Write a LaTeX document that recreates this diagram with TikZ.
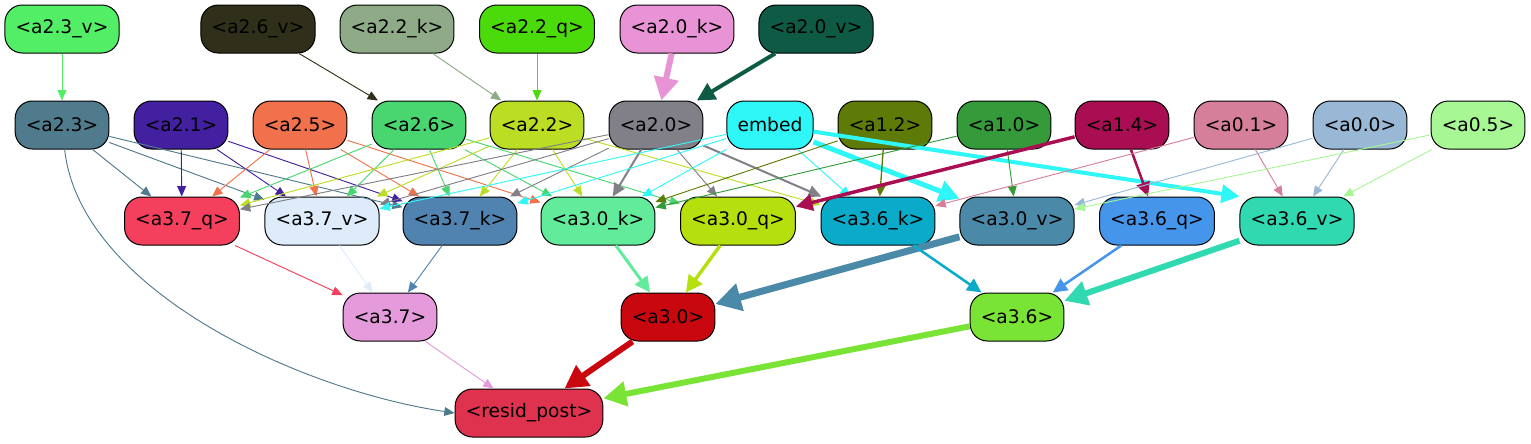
\documentclass[tikz,border=0pt]{standalone}
\usepackage{fontspec}
\setmainfont{DejaVu Sans}
\usetikzlibrary{arrows.meta}
\definecolor{c23v}{HTML}{52EF66}
\definecolor{c26v}{HTML}{30301A}
\definecolor{c22k}{HTML}{8FAA87}
\definecolor{c22q}{HTML}{4BDB0B}
\definecolor{c20k}{HTML}{E893D5}
\definecolor{c20v}{HTML}{0E5A44}
\definecolor{c23}{HTML}{4F7B8C}
\definecolor{c21}{HTML}{43209F}
\definecolor{c25}{HTML}{F0714B}
\definecolor{c26}{HTML}{49D56F}
\definecolor{c22}{HTML}{BBDE24}
\definecolor{c20}{HTML}{818089}
\definecolor{cemb}{HTML}{2FF7F7}
\definecolor{c12}{HTML}{5D7B06}
\definecolor{c10}{HTML}{359A39}
\definecolor{c14}{HTML}{AA0E52}
\definecolor{c01}{HTML}{D67F9A}
\definecolor{c00}{HTML}{99B8D6}
\definecolor{c05}{HTML}{A7F795}
\definecolor{c37q}{HTML}{F43F5D}
\definecolor{c37v}{HTML}{DDEBFB}
\definecolor{c37k}{HTML}{5183B0}
\definecolor{c30k}{HTML}{62EB9B}
\definecolor{c30q}{HTML}{B6E00D}
\definecolor{c36k}{HTML}{0AABC9}
\definecolor{c30v}{HTML}{4A89A8}
\definecolor{c36q}{HTML}{4595EB}
\definecolor{c36v}{HTML}{30D9AF}
\definecolor{c37}{HTML}{E49ADB}
\definecolor{c30}{HTML}{C8080E}
\definecolor{c36}{HTML}{79E435}
\definecolor{cres}{HTML}{DF324E}
\begin{document}
\begin{tikzpicture}[x=0.75pt, y=-0.75pt,
		box/.style={draw=black, line width=0.75pt, rounded corners=13pt, minimum height=36pt, inner xsep=8pt, inner ysep=0pt, font=\fontsize{14pt}{16pt}\selectfont},
		wire/.style={draw=#1, line width=0.7pt, -{Triangle[length=6pt 2.5, width=4.5pt 3]}}]
		\useasboundingbox (0, 0) rectangle (1531, 443);
		\node[box, fill=c23v] (a23v) at (62, 29) {<a2.3\_v>};
		\node[box, fill=c26v] (a26v) at (258, 29) {<a2.6\_v>};
		\node[box, fill=c22k] (a22k) at (397, 29) {<a2.2\_k>};
		\node[box, fill=c22q] (a22q) at (537, 29) {<a2.2\_q>};
		\node[box, fill=c20k] (a20k) at (677, 29) {<a2.0\_k>};
		\node[box, fill=c20v] (a20v) at (816, 29) {<a2.0\_v>};
		\node[box, fill=c23] (a23) at (62, 125) {<a2.3>};
		\node[box, fill=c21] (a21) at (181, 125) {<a2.1>};
		\node[box, fill=c25] (a25) at (300, 125) {<a2.5>};
		\node[box, fill=c26] (a26) at (419, 125) {<a2.6>};
		\node[box, fill=c22] (a22) at (537, 125) {<a2.2>};
		\node[box, fill=c20] (a20) at (656, 125) {<a2.0>};
		\node[box, fill=cemb] (emb) at (770, 125) {embed};
		\node[box, fill=c12] (a12) at (885, 125) {<a1.2>};
		\node[box, fill=c10] (a10) at (1004, 125) {<a1.0>};
		\node[box, fill=c14] (a14) at (1122, 125) {<a1.4>};
		\node[box, fill=c01] (a01) at (1241, 125) {<a0.1>};
		\node[box, fill=c00] (a00) at (1360, 125) {<a0.0>};
		\node[box, fill=c05] (a05) at (1478, 125) {<a0.5>};
		\node[box, fill=c37q] (a37q) at (182, 221) {<a3.7\_q>};
		\node[box, fill=c37v] (a37v) at (322, 221) {<a3.7\_v>};
		\node[box, fill=c37k] (a37k) at (460, 221) {<a3.7\_k>};
		\node[box, fill=c30k] (a30k) at (598, 221) {<a3.0\_k>};
		\node[box, fill=c30q] (a30q) at (738, 221) {<a3.0\_q>};
		\node[box, fill=c36k] (a36k) at (878, 221) {<a3.6\_k>};
		\node[box, fill=c30v] (a30v) at (1017, 221) {<a3.0\_v>};
		\node[box, fill=c36q] (a36q) at (1157, 221) {<a3.6\_q>};
		\node[box, fill=c36v] (a36v) at (1297, 221) {<a3.6\_v>};
		\node[box, fill=c37] (a37) at (390, 317) {<a3.7>};
		\node[box, fill=c30] (a30) at (668, 317) {<a3.0>};
		\node[box, fill=c36] (a36) at (1017, 317) {<a3.6>};
		\node[box, fill=cres] (res) at (529, 413) {<resid\_post>};
		\draw[wire=c23v] (a23v) -- (a23);
		\draw[wire=c26v] (a26v) -- (a26);
		\draw[wire=c22k] (a22k) -- (a22);
		\draw[wire=c22q] (a22q) -- (a22);
		\draw[wire=c20k, line width=4.5pt] (a20k) -- (a20);
		\draw[wire=c20v, line width=3pt] (a20v) -- (a20);
		\draw[wire=c23] (a23) -- (a37q);
		\draw[wire=c23] (a23) -- (a37v);
		\draw[wire=c23] (a23) -- (a37k);
		\draw[wire=c23] (a23) .. controls (80, 290) and (300, 390) .. (res.west);
		\draw[wire=c21] (a21) -- (a37q);
		\draw[wire=c21] (a21) -- (a37v);
		\draw[wire=c21] (a21) -- (a37k);
		\draw[wire=c25] (a25) -- (a37q);
		\draw[wire=c25] (a25) -- (a37v);
		\draw[wire=c25] (a25) -- (a37k);
		\draw[wire=c25] (a25) -- (a30k);
		\draw[wire=c26] (a26) -- (a37q);
		\draw[wire=c26] (a26) -- (a37v);
		\draw[wire=c26] (a26) -- (a37k);
		\draw[wire=c26] (a26) -- (a30k);
		\draw[wire=c26] (a26) -- (a30q);
		\draw[wire=c22] (a22) -- (a37q);
		\draw[wire=c22] (a22) -- (a37v);
		\draw[wire=c22] (a22) -- (a37k);
		\draw[wire=c22] (a22) -- (a30k);
		\draw[wire=c22] (a22) -- (a36k);
		\draw[wire=c20] (a20) -- (a37q);
		\draw[wire=c20] (a20) -- (a37v);
		\draw[wire=c20] (a20) -- (a37k);
		\draw[wire=c20, line width=1.5pt] (a20) -- (a30k);
		\draw[wire=c20] (a20) -- (a30q);
		\draw[wire=c20, line width=1.5pt] (a20) -- (a36k);
		\draw[wire=cemb] (emb) -- (a37v);
		\draw[wire=cemb] (emb) -- (a37k);
		\draw[wire=cemb] (emb) -- (a30k);
		\draw[wire=cemb] (emb) -- (a36k);
		\draw[wire=cemb, line width=3.75pt] (emb) -- (a30v);
		\draw[wire=cemb, line width=3pt] (emb) -- (a36v.north west);
		\draw[wire=c12] (a12) -- (a30k);
		\draw[wire=c12, line width=1pt] (a12) -- (a36k);
		\draw[wire=c10] (a10) -- (a30k);
		\draw[wire=c10] (a10) -- (a30v);
		\draw[wire=c14, line width=2.6pt] (a14) -- (a30q);
		\draw[wire=c14, line width=1.9pt] (a14) -- (a36q);
		\draw[wire=c01] (a01) -- (a36k);
		\draw[wire=c01] (a01) -- (a36v);
		\draw[wire=c00] (a00) -- (a30v);
		\draw[wire=c00] (a00) -- (a36v);
		\draw[wire=c05] (a05) -- (a30v);
		\draw[wire=c05] (a05) -- (a36v);
		\draw[wire=c37q] (a37q) -- (a37);
		\draw[wire=c37v] (a37v) -- (a37);
		\draw[wire=c37k] (a37k) -- (a37);
		\draw[wire=c30k, line width=2.25pt] (a30k) -- (a30);
		\draw[wire=c30q, line width=2.6pt] (a30q) -- (a30);
		\draw[wire=c30v, line width=5.25pt] (a30v) -- (a30);
		\draw[wire=c36k, line width=1.9pt] (a36k) -- (a36);
		\draw[wire=c36q, line width=1.9pt] (a36q) -- (a36);
		\draw[wire=c36v, line width=4.5pt] (a36v) -- (a36);
		\draw[wire=c37] (a37) -- (res);
		\draw[wire=c30, line width=4.5pt] (a30) -- (res);
		\draw[wire=c36, line width=4.5pt] (a36) -- (res);
\end{tikzpicture}
\end{document}
